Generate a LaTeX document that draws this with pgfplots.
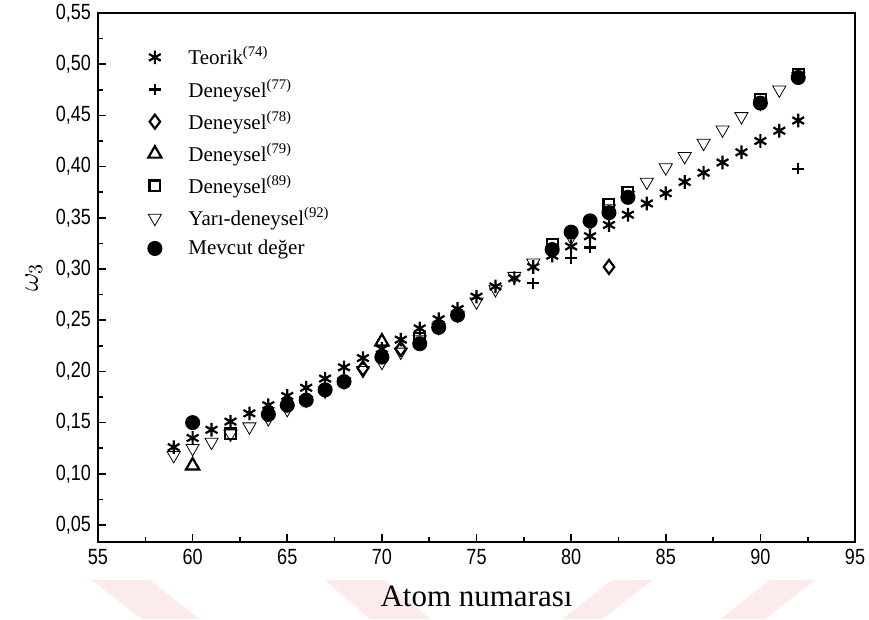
\documentclass[border=0pt]{standalone}
\usepackage{fontspec}
\setmainfont{Liberation Serif}
\newfontfamily\ticksfont{Liberation Sans}[FakeStretch=0.82]
\usepackage{pgfplots}
\pgfplotsset{compat=1.18}

\begin{document}
\begin{tikzpicture}
% faint background bands below the plot
\begin{scope}[x=0.5pt,y=-0.5pt,shift={(-49pt,270.9pt)}]
  \begin{scope}[fill=red!85!black, fill opacity=0.08]
    \fill (92,580) -- (150,580) -- (200,619) -- (142,619) -- cycle;
    \fill (325,580) -- (385,580) -- (430,619) -- (370,619) -- cycle;
    \fill (612,580) -- (652,580) -- (602,619) -- (562,619) -- cycle;
    \fill (770,580) -- (815,580) -- (765,619) -- (720,619) -- cycle;
  \end{scope}
\end{scope}
\begin{axis}[
  scale only axis,
  width=378.5pt, height=264.5pt,
  xmin=55, xmax=95,
  ymin=0.0334, ymax=0.55,
  xtick={55,60,...,95},
  ytick={0.05,0.10,...,0.551},
  minor x tick num=1,
  minor y tick num=1,
  tick align=inside,
  xtick pos=bottom, ytick pos=left,
  major tick length=4pt, minor tick length=2.5pt,
  every tick/.style={black, line width=0.8pt},
  axis line style={line width=1pt},
  axis background/.style={fill=white},
  tick label style={font=\ticksfont\fontsize{11}{12}\selectfont},
  /pgf/number format/assume math mode=true,
  yticklabel style={/pgf/number format/.cd, fixed, fixed zerofill, precision=2, use comma},
  xticklabel style={/pgf/number format/.cd, fixed, precision=0},
  xlabel={Atom numarası},
  xlabel style={font=\fontsize{15.5}{16}\selectfont, yshift=-4pt},
  ylabel={$\omega_3$},
  ylabel style={font=\fontsize{14}{15}\selectfont},
  legend cell align=left,
  legend style={at={(rel axis cs:0.058,0.952)}, anchor=north west, draw=none, fill=none,
    font=\fontsize{10.5}{12}\selectfont, row sep=1.5pt,
    /tikz/every odd column/.append style={column sep=11.5pt}},
  mark options={solid, line width=1.1pt},
]
% theoretical values
\addplot[only marks, mark=asterisk, mark size=3.4pt] coordinates {
 (59,0.126) (60,0.135) (61,0.143) (62,0.151) (63,0.159) (64,0.167) (65,0.176)
 (66,0.184) (67,0.193) (68,0.204) (69,0.213) (70,0.222) (71,0.231) (72,0.242)
 (73,0.251) (74,0.261) (75,0.273) (76,0.283) (77,0.291) (78,0.302) (79,0.313)
 (80,0.322) (81,0.332) (82,0.343) (83,0.353) (84,0.364) (85,0.374) (86,0.385)
 (87,0.394) (88,0.404) (89,0.414) (90,0.425) (91,0.435) (92,0.445)};
\addlegendentry{Teorik\textsuperscript{(74)}}
% experimental, ref. 77
\addplot[only marks, mark=+, mark size=2.9pt] coordinates {
 (78,0.286) (80,0.311) (81,0.321) (92,0.398)};
\addlegendentry{Deneysel\textsuperscript{(77)}}
% experimental, ref. 78
\addplot[only marks, mark=diamond, mark size=3.5pt] coordinates {
 (65,0.168) (69,0.203) (71,0.222) (82,0.302)};
\addlegendentry{Deneysel\textsuperscript{(78)}}
% experimental, ref. 79
\addplot[only marks, mark=triangle, mark size=3.8pt] coordinates {
 (60,0.108) (70,0.229)};
\addlegendentry{Deneysel\textsuperscript{(79)}}
% experimental, ref. 89
\addplot[only marks, mark=square, mark size=2.7pt] coordinates {
 (62,0.139) (72,0.232) (79,0.324) (82,0.363) (83,0.375) (90,0.466) (92,0.490)};
\addlegendentry{Deneysel\textsuperscript{(89)}}
% semi-empirical, ref. 92
\addplot[only marks, mark=triangle, mark size=3.8pt, mark options={rotate=180}] coordinates {
 (59,0.118) (60,0.125) (61,0.131) (62,0.139) (63,0.146) (64,0.154) (65,0.163)
 (66,0.172) (67,0.181) (68,0.190) (69,0.201) (70,0.209) (71,0.219) (72,0.231)
 (73,0.243) (74,0.255) (75,0.268) (76,0.280) (77,0.293) (78,0.306) (79,0.318)
 (80,0.331) (81,0.345) (82,0.359) (83,0.372) (84,0.385) (85,0.399) (86,0.410)
 (87,0.423) (88,0.436) (89,0.449) (90,0.462) (91,0.475) (92,0.488)};
\addlegendentry{Yarı-deneysel\textsuperscript{(92)}}
% present values
\addplot[only marks, mark=*, mark size=3.2pt, fill=black] coordinates {
 (60,0.150) (64,0.158) (65,0.167) (66,0.172) (67,0.182) (68,0.190) (70,0.214)
 (72,0.227) (73,0.243) (74,0.255) (79,0.319) (80,0.336) (81,0.347) (82,0.355)
 (83,0.370) (90,0.462) (92,0.487)};
\addlegendentry{Mevcut değer}
\end{axis}
\pgfresetboundingbox
\path[use as bounding box] ([xshift=-49pt,yshift=-38.5pt]current axis.south west)
  rectangle ([xshift=7pt,yshift=6.5pt]current axis.north east);
\end{tikzpicture}
\end{document}
